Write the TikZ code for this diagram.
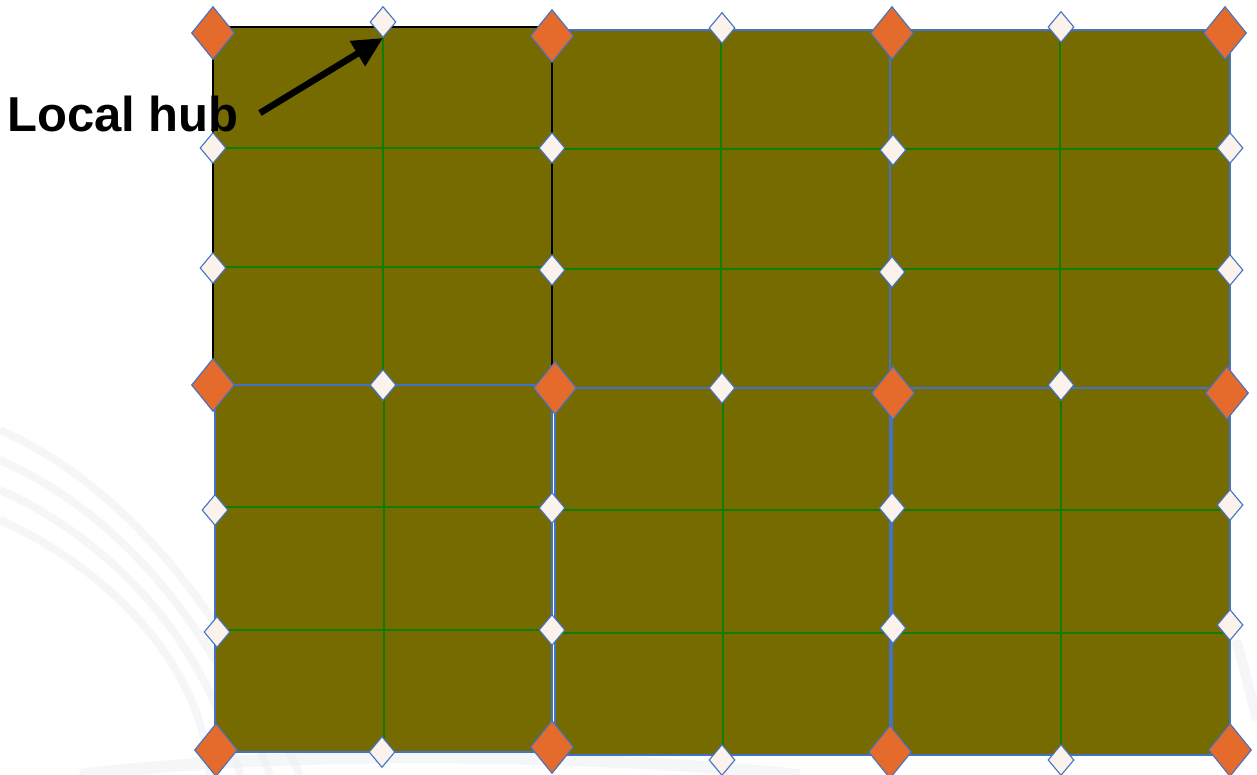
\documentclass[tikz,border=0pt]{standalone}
\usepackage{fontspec}
\setmainfont{Liberation Sans}
\usetikzlibrary{shapes.geometric,arrows.meta}
\definecolor{olive}{RGB}{117,107,0}
\definecolor{gridgreen}{RGB}{16,124,0}
\definecolor{edgeblue}{RGB}{68,114,196}
\definecolor{hubor}{RGB}{228,107,43}
\definecolor{hubwhite}{RGB}{251,242,236}
\definecolor{swoosh}{RGB}{238,240,242}
\tikzset{
  gline/.style={draw=gridgreen,line width=1.7pt},
  bline/.style={draw=edgeblue,line width=1.5pt},
  bighub/.style={diamond,draw=edgeblue,fill=hubor,line width=1.1pt,inner sep=0pt,minimum width=43pt,minimum height=53pt},
  hub/.style={diamond,draw=edgeblue,fill=hubwhite,line width=1.1pt,inner sep=0pt,minimum width=26pt,minimum height=31pt},
  lbl/.style={font=\fontsize{49}{55}\selectfont\bfseries,inner sep=0pt,anchor=base west},
  pointer/.style={line width=6.5pt,-{Triangle[length=30pt,width=28pt]}}
}
\begin{document}
\begin{tikzpicture}[x=1pt,y=-1pt]
\useasboundingbox (0,0) rectangle (1257,775);
% faint background swooshes
\begin{scope}[swoosh,opacity=0.6]
\foreach \d in {0,30,60,90}{
  \draw[line width=8pt] (0,430+\d) .. controls (90,470+\d) and (200,560+\d) .. (300-\d,775);
}
\draw[line width=12pt] (80,775) .. controls (300,748) and (600,755) .. (800,775);
\draw[line width=10pt] (1236,640) .. controls (1245,670) and (1252,700) .. (1257,720);
\end{scope}
% blocks: x1,y1,x2,y2
\foreach \xa/\ya/\xb/\yb in {552/30/890/388, 890/30/1230/388, 215/385/552/752, 555/388/890/755, 892/388/1230/755}{
  \fill[olive] (\xa,\ya) rectangle (\xb,\yb);
  \pgfmathsetmacro{\xm}{round((\xa+\xb)/2)}
  \pgfmathsetmacro{\yp}{round(\ya+(\yb-\ya)/3)}
  \pgfmathsetmacro{\yq}{round(\ya+2*(\yb-\ya)/3)}
  \draw[gline] (\xm,\ya) -- (\xm,\yb);
  \draw[gline] (\xa,\yp) -- (\xb,\yp);
  \draw[gline] (\xa,\yq) -- (\xb,\yq);
  \draw[bline] (\xa,\ya) rectangle (\xb,\yb);
}
% top-left block with black border
\fill[olive] (213,27) rectangle (552,385);
\draw[gline] (383,27) -- (383,385);
\draw[gline] (213,148) -- (552,148);
\draw[gline] (213,267) -- (552,267);
\draw[black,line width=1.5pt] (213,27) rectangle (552,385);
\draw[bline] (213,385) -- (552,385);
% orange hubs
\node[bighub] (o1) at (213,33) {};
\node[bighub] (o2) at (552,36) {};
\node[bighub] (o3) at (892,33) {};
\node[bighub] (o4) at (1225,33) {};
\node[bighub] (o5) at (213,385) {};
\node[bighub] (o6) at (555,388) {};
\node[bighub] (o7) at (893,393) {};
\node[bighub] (o8) at (1227,393) {};
\node[bighub] (o9) at (216,750) {};
\node[bighub] (o10) at (552,747) {};
\node[bighub] (o11) at (890,752) {};
\node[bighub] (o12) at (1230,750) {};
% white hubs
\node[hub] (t1) at (383,22) {};
\node[hub] (t2) at (722,28) {};
\node[hub] (t3) at (1061,27) {};
\node[hub] (m1) at (383,385) {};
\node[hub] (m2) at (722,388) {};
\node[hub] (m3) at (1061,385) {};
\node[hub] (b1) at (382,752) {};
\node[hub] (b2) at (722,760) {};
\node[hub] (b3) at (1061,760) {};
\node[hub] (a1) at (213,148) {};
\node[hub] (a2) at (213,268) {};
\node[hub] (a3) at (215,510) {};
\node[hub] (a4) at (217,632) {};
\node[hub] (c1) at (552,148) {};
\node[hub] (c2) at (552,270) {};
\node[hub] (c3) at (552,508) {};
\node[hub] (c4) at (552,630) {};
\node[hub] (d1) at (893,150) {};
\node[hub] (d2) at (892,272) {};
\node[hub] (d3) at (892,508) {};
\node[hub] (d4) at (893,628) {};
\node[hub] (e1) at (1230,148) {};
\node[hub] (e2) at (1230,270) {};
\node[hub] (e3) at (1230,505) {};
\node[hub] (e4) at (1230,625) {};
% label and pointer
\node[lbl] (label) at (7,132) {Local hub};
\coordinate (tail) at (260,113);
\draw[pointer] (tail) -- (t1.south);
\end{tikzpicture}
\end{document}
